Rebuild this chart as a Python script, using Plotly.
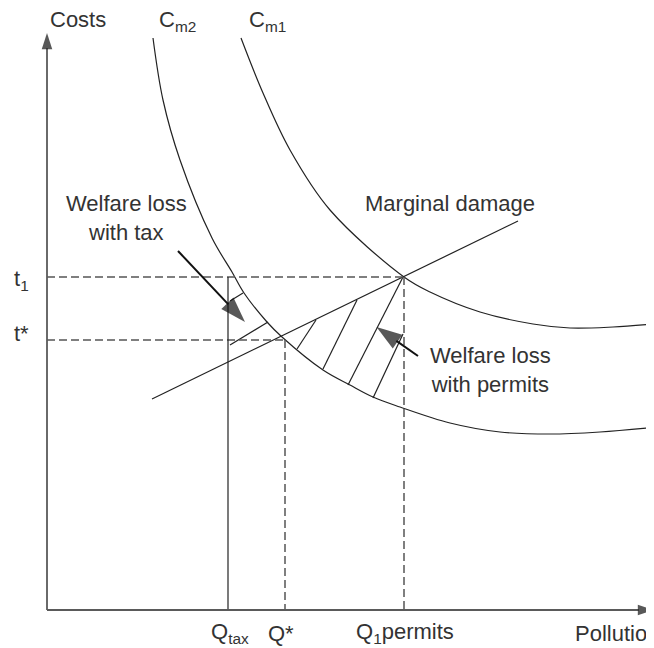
import plotly.graph_objects as go

# Levels (pollution on x, costs on y, origin at axes corner)
T_1 = 333
T_STAR = 270
Q_TAX = 181
Q_STAR = 238
Q_1 = 357
X_END = 607
Y_END = 577

# Marginal cost curves
cm1_q = [194, 216, 243, 283, 357, 383, 433, 486, 523, 566, 607]
cm1_c = [572, 517, 460, 400, 333, 318, 298, 286, 282, 283, 286]
cm2_q = [106, 116, 133, 165, 185, 197, 220, 235, 276, 303, 326, 353, 403, 453, 503, 553, 601]
cm2_c = [572, 510, 450, 372, 338, 317, 288, 273, 240, 225, 213, 203, 187, 178, 176, 178, 182]

# Marginal damage line
md_q = [105, 471]
md_c = [211, 389]

# Hatching (start/end pairs)
hatch_q = [250, 269, None, 276, 310, None, 301, 356, None, 326, 356, None,
           183, 196, None, 183, 221]
hatch_c = [261, 290, None, 241, 310, None, 225, 333, None, 212, 276, None,
           309, 317, None, 265, 288]

# Arrows: tail -> tip
axis_arrows = [((0, 0), (0, Y_END)), ((0, 0), (X_END, 0))]
loss_arrows = [((131, 359), (198, 288)), ((371, 254), (329.5, 283))]

FONT = "Liberation Sans, Arial, sans-serif"
INK = "#222222"
DASH_COL = "#555555"
AXIS_COL = "#5a5a5a"

fig = go.Figure()

curve = dict(color=INK, width=1.2)
fig.add_trace(go.Scatter(x=cm1_q, y=cm1_c, mode="lines",
                         line=dict(shape="spline", smoothing=1, **curve)))
fig.add_trace(go.Scatter(x=cm2_q, y=cm2_c, mode="lines",
                         line=dict(shape="spline", smoothing=1, **curve)))
fig.add_trace(go.Scatter(x=md_q, y=md_c, mode="lines", line=curve))
fig.add_trace(go.Scatter(x=hatch_q, y=hatch_c, mode="lines", line=curve,
                         connectgaps=False))

# Dashed guides
dash = dict(color=DASH_COL, width=1.5, dash="8px,4px")
fig.add_trace(go.Scatter(x=[0, Q_1], y=[T_1, T_1], mode="lines", line=dash))
fig.add_trace(go.Scatter(x=[0, Q_STAR], y=[T_STAR, T_STAR], mode="lines", line=dash))
fig.add_trace(go.Scatter(x=[Q_STAR, Q_STAR], y=[T_STAR, 0], mode="lines", line=dash))
fig.add_trace(go.Scatter(x=[Q_1, Q_1], y=[T_1, 0], mode="lines", line=dash))

# Q tax (solid)
fig.add_trace(go.Scatter(x=[Q_TAX, Q_TAX], y=[T_1, 0], mode="lines",
                         line=dict(color=INK, width=1.2)))


def add_arrow(tail, tip, color, width, head, head_color):
    fig.add_trace(go.Scatter(
        x=[tail[0], tip[0]], y=[tail[1], tip[1]], mode="lines+markers",
        line=dict(color=color, width=width),
        marker=dict(symbol="arrow", angleref="previous", size=[0, head],
                    color=head_color, line=dict(width=0)),
    ))


for tail, tip in axis_arrows:
    add_arrow(tail, tip, AXIS_COL, 1.8, 17, "#111111")
for tail, tip in loss_arrows:
    add_arrow(tail, tip, "#111111", 2, 27, "#111111")

labels = [
    ("Costs", 31, 591, "center"),
    ("C<sub>m2</sub>", 130, 589, "center"),
    ("C<sub>m1</sub>", 220, 589, "center"),
    ("Marginal damage", 403, 407, "center"),
    ("Welfare loss<br>with tax", 79, 392, "center"),
    ("Welfare loss<br>with permits", 443, 240, "center"),
    ("t<sub>1</sub>", -26, 330, "center"),
    ("t*", -26, 277, "center"),
    ("Q<sub>tax</sub>", 183, -23, "center"),
    ("Q*", 234, -23, "center"),
    ("Q<sub>1</sub>permits", 358, -23, "center"),
    ("Pollution", 526, -23, "left"),
]
for text, lx, ly, anchor in labels:
    fig.add_annotation(x=lx, y=ly, xref="x", yref="y", text=text,
                       showarrow=False, xanchor=anchor, yanchor="middle",
                       font=dict(family=FONT, size=22, color="#333333"))

# page body has an 8px margin, so the figure is 8px smaller and ranges shifted
fig.update_layout(
    width=646, height=640,
    margin=dict(l=0, r=0, t=0, b=0),
    paper_bgcolor="white", plot_bgcolor="white",
    showlegend=False,
    xaxis=dict(range=[-39, 607], visible=False, fixedrange=True),
    yaxis=dict(range=[-38, 602], visible=False, fixedrange=True),
)

fig.write_html("out.html")
